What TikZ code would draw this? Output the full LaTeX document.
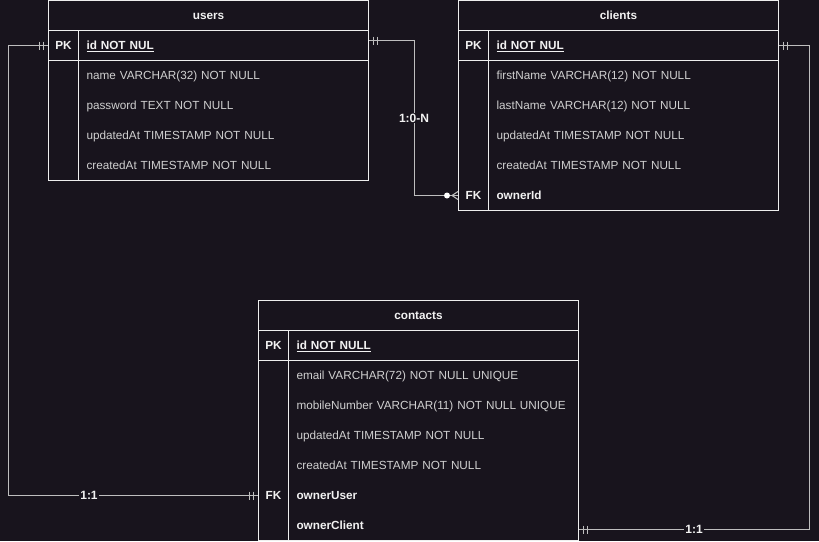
\documentclass[tikz,border=0pt]{standalone}
\usepackage{fontspec}
\setmainfont{Liberation Sans}
\definecolor{bgc}{RGB}{24,20,29}
\definecolor{boxc}{RGB}{238,238,238}
\definecolor{connc}{RGB}{190,190,190}
\definecolor{fldc}{RGB}{208,208,208}
\definecolor{boldc}{RGB}{242,242,242}
\newcommand\ermandone[2]{%
  \draw[conn] ([xshift=#2*4.5pt]#1) ++(0,-4) -- ++(0,8);
  \draw[conn] ([xshift=#2*8.5pt]#1) ++(0,-4) -- ++(0,8);}
\newcommand\fsz{\fontsize{11.75pt}{14pt}\selectfont}
\tikzset{
  cellbase/.style={line width=1pt, inner sep=0pt, anchor=north west, minimum height=30pt,
    font=\fsz, text height=10pt, text depth=2pt},
  headcell/.style={cellbase, draw=boxc, minimum width=320pt, text=boldc, font=\fsz\bfseries},
  keycell/.style={cellbase, minimum width=30pt, text=boldc, font=\fsz\bfseries},
  keybox/.style={keycell, draw=boxc},
  fldbox/.style={cellbase, draw=boxc, minimum width=290pt},
  fld/.style={cellbase, minimum width=290pt, text width=274pt, inner xsep=8pt, align=left, text=fldc},
  fldb/.style={fld, text=boldc, font=\fsz\bfseries},
  conn/.style={draw=connc, line width=1pt},
  rel/.style={fill=bgc, text=boldc, inner sep=1pt, font=\fontsize{12pt}{14pt}\selectfont\bfseries},
}
\begin{document}
\begin{tikzpicture}[x=1pt, y=-1pt]
\fill[bgc] (0,0) rectangle (819,541);
\useasboundingbox (0,0) rectangle (819,541);

% ---------- users ----------
\node[headcell] (users) at (48,0) {users};
\node[keybox] (uPK) at (48,30) {PK};
\node[fldbox, fldb] (uid) at (78,30) {\underline{id NOT NUL}};
\node[keybox, minimum height=120pt] (uKeys) at (48,60) {};
\node[fldbox, minimum height=120pt] (uBody) at (78,60) {};
\node[fld] (uName) at (78,60) {name VARCHAR(32) NOT NULL};
\node[fld] (uPass) at (78,90) {password TEXT NOT NULL};
\node[fld] (uUpd) at (78,120) {updatedAt TIMESTAMP NOT NULL};
\node[fld] (uCre) at (78,150) {createdAt TIMESTAMP NOT NULL};

% ---------- clients ----------
\node[headcell] (clients) at (458,0) {clients};
\node[keybox] (cPK) at (458,30) {PK};
\node[fldbox, fldb] (cid) at (488,30) {\underline{id NOT NUL}};
\node[keybox, minimum height=150pt] (cKeys) at (458,60) {};
\node[fldbox, minimum height=150pt] (cBody) at (488,60) {};
\node[fld] (cFirst) at (488,60) {firstName VARCHAR(12) NOT NULL};
\node[fld] (cLast) at (488,90) {lastName VARCHAR(12) NOT NULL};
\node[fld] (cUpd) at (488,120) {updatedAt TIMESTAMP NOT NULL};
\node[fld] (cCre) at (488,150) {createdAt TIMESTAMP NOT NULL};
\node[keycell] (cFK) at (458,180) {FK};
\node[fldb] (cOwner) at (488,180) {ownerId};

% ---------- contacts ----------
\node[headcell] (contacts) at (258,300) {contacts};
\node[keybox] (tPK) at (258,330) {PK};
\node[fldbox, fldb] (tid) at (288,330) {\underline{id NOT NULL}};
\node[keybox, minimum height=180pt] (tKeys) at (258,360) {};
\node[fldbox, minimum height=180pt] (tBody) at (288,360) {};
\node[fld] (tMail) at (288,360) {email VARCHAR(72) NOT NULL UNIQUE};
\node[fld] (tMob) at (288,390) {\mbox{mobileNumber VARCHAR(11) NOT NULL UNIQUE}};
\node[fld] (tUpd) at (288,420) {updatedAt TIMESTAMP NOT NULL};
\node[fld] (tCre) at (288,450) {createdAt TIMESTAMP NOT NULL};
\node[keycell] (tFK) at (258,480) {FK};
\node[fldb] (tOU) at (288,480) {ownerUser};
\node[fldb] (tOC) at (288,510) {ownerClient};

% ---------- connectors ----------
\coordinate (uidR) at ([yshift=5pt]uid.east);
\coordinate (tocR) at ([yshift=-4pt]tOC.east);

% users 1:0-N clients
\draw[conn] (uidR) -- ++(45,0) |- (cFK.west) node[rel, pos=0.25] {1:0-N};
\ermandone{uidR}{1}
\fill[white] ([xshift=-11pt]cFK.west) circle (3pt);
\draw[conn] ([xshift=-6pt]cFK.west) -- ([yshift=4pt]cFK.west);
\draw[conn] ([xshift=-6pt]cFK.west) -- ([yshift=-4pt]cFK.west);

% users 1:1 contacts.ownerUser
\draw[conn] (uPK.west) -- ++(-40,0) |- (tFK.west) node[rel, pos=0.662] {1:1};
\ermandone{uPK.west}{-1}
\ermandone{tFK.west}{-1}

% clients 1:1 contacts.ownerClient
\draw[conn] (cid.east) -- ++(30,0) |- (tocR) node[rel, pos=0.75] {1:1};
\ermandone{cid.east}{1}
\ermandone{tocR}{1}
\end{tikzpicture}
\end{document}
